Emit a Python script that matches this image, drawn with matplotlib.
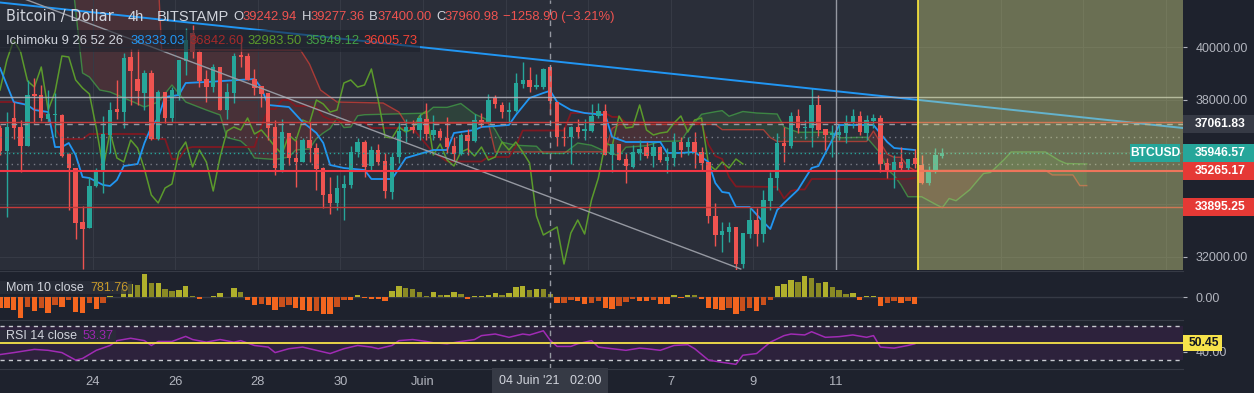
import numpy as np
import matplotlib.pyplot as plt
import matplotlib.transforms as mtransforms
from matplotlib.patches import Rectangle

plt.rcParams['font.family'] = ['Liberation Sans', 'DejaVu Sans']

# BTCUSD 4h candles (BITSTAMP), bar 0 = 22 May 02:00, bar 80 = 04 Juin 02:00
opens = [36915, 36040, 37295, 36952, 36228, 38210, 38171, 37257, 37410, 37410,
         35924, 35390, 33333, 33104, 34704, 35276, 36648, 37638, 37524, 39619,
         38781, 38248, 39010, 36495, 38286, 37295, 38171, 39467, 40534, 39810,
         38781, 38476, 39238, 37600, 38248, 39695, 39657, 38781, 38515, 38248,
         36952, 35314, 36724, 35771, 35619, 36457, 36152, 35390, 34400, 34057,
         34628, 34743, 35996, 36381, 35466, 36076, 35657, 34476, 35809, 36800,
         36952, 36838, 37257, 36648, 36800, 36533, 36229, 35924, 36648, 36419,
         37219, 37143, 38057, 37791, 37524, 37562, 38591, 38743, 38476, 38476,
         39243, 37905, 36571, 36571, 36952, 36800, 36800, 37371, 37562, 35885,
         36305, 35733, 35428, 35962, 36190, 35847, 36190, 35657, 35771, 36381,
         36190, 36381, 35996, 35619, 33561, 32838, 32952, 33143, 31733, 32876,
         33409, 32876, 34133, 35010, 36343, 36229, 37371, 36914, 36914, 37791,
         36876, 36648, 36648, 36724, 37105, 37371, 36724, 37181, 37295, 35581,
         35238, 35619, 35390, 35771, 35505, 34819, 35276, 35847]
highs = [37030, 37525, 37905, 37219, 38743, 38819, 38553, 38362, 38248, 37448,
         35962, 35390, 33942, 35047, 35390, 37371, 37905, 38743, 39772, 39924,
         39924, 39124, 39124, 38362, 38286, 38476, 39505, 40724, 40838, 39886,
         39124, 39353, 39238, 38629, 39772, 40419, 39772, 39162, 38515, 38248,
         37219, 37257, 36724, 36457, 36533, 37143, 36343, 35428, 35047, 35123,
         35123, 36229, 36533, 36457, 36229, 36305, 35962, 35962, 37143, 37257,
         37219, 37448, 37867, 37410, 36914, 37333, 36571, 36724, 36876, 37448,
         37486, 38210, 38171, 37905, 37905, 39010, 39429, 39238, 38972, 39200,
         39277, 37905, 36952, 36990, 37257, 37257, 37829, 37867, 37829, 36305,
         36305, 35962, 36267, 36457, 36381, 36381, 36229, 36152, 36724, 36571,
         36571, 36762, 36190, 35619, 34057, 33333, 33333, 33143, 32914, 33866,
         33866, 34552, 35238, 36724, 36952, 37524, 37638, 37219, 38438, 38171,
         36876, 37028, 37028, 37410, 37638, 37562, 37410, 37448, 37410, 35771,
         35885, 36190, 35733, 36114, 35885, 35466, 36152, 36152]
lows = [35885, 33525, 36495, 35238, 36228, 37105, 37181, 37143, 36571, 35809,
        33790, 32685, 31542, 33104, 34666, 34438, 35962, 37257, 36914, 37791,
        37791, 37600, 36457, 36457, 37105, 37143, 37981, 38934, 39581, 38476,
        37905, 38286, 37600, 37257, 37867, 39238, 38743, 38171, 37714, 36457,
        35123, 35238, 35505, 34666, 35619, 35619, 34552, 33866, 33638, 33790,
        33409, 34628, 35809, 35047, 35314, 35505, 34247, 34209, 35581, 36381,
        36724, 36457, 36457, 36457, 36457, 35962, 35657, 35885, 35885, 36381,
        36952, 37143, 37676, 37295, 37105, 37524, 38438, 38286, 38400, 38400,
        37400, 36229, 36229, 35543, 36533, 36457, 36762, 37295, 35885, 35238,
        35695, 34819, 35390, 35695, 35771, 35428, 35619, 35200, 35466, 35809,
        35885, 35390, 35314, 33295, 32418, 32190, 32571, 31504, 31580, 32723,
        32418, 32571, 33790, 34552, 35619, 36152, 36724, 36495, 36190, 36610,
        36076, 35809, 36457, 36343, 36914, 36648, 36457, 36914, 35238, 35010,
        34628, 35314, 35314, 35390, 34781, 34743, 35200, 35771]
closes = [36040, 36950, 36914, 36228, 38171, 38133, 37295, 37448, 37448, 35847,
          35390, 33295, 33066, 34704, 35314, 36686, 37600, 37524, 39581, 39086,
          38324, 39010, 36495, 38286, 37295, 38362, 39505, 40267, 39810, 38705,
          38476, 39238, 37600, 38286, 39657, 39619, 38743, 38438, 38210, 36914,
          35390, 36762, 35771, 35619, 36457, 36152, 35352, 34362, 34057, 34628,
          34781, 35996, 36381, 35428, 36076, 35619, 34514, 35809, 36800, 36952,
          36838, 37295, 36686, 36838, 36533, 36190, 35924, 36648, 36419, 37219,
          37105, 37981, 37829, 37524, 37600, 38629, 38743, 38476, 38553, 39162,
          37961, 36571, 36533, 36952, 36762, 36876, 37371, 37562, 35885, 36305,
          35695, 35466, 35996, 36114, 35847, 36190, 35695, 35809, 36381, 36076,
          36381, 35996, 35581, 33561, 32838, 32990, 33143, 31733, 32914, 33409,
          32876, 34171, 35010, 36343, 36229, 37371, 36914, 36952, 37791, 36838,
          36648, 36724, 36762, 37105, 37371, 36762, 37219, 37295, 35543, 35314,
          35619, 35390, 35733, 35543, 34819, 35276, 35885, 35947]
last_indicator_bar = 133
lag = 25

# Ichimoku 9 26 52 26 as (bar, price) points
tenkan_x = [0, 2, 4, 5, 7, 8, 9, 10, 11, 12, 13, 15, 16, 17, 18, 20, 21, 22, 23, 24,
            26, 27, 30, 37, 38, 39, 42, 44, 46, 47, 48, 50, 53, 54, 57, 59, 61, 63, 65, 66,
            69, 70, 74, 75, 77, 79, 80, 81, 83, 85, 88, 89, 91, 96, 97, 99, 101, 103, 104, 105,
            106, 107, 109, 111, 112, 113, 114, 116, 118, 119, 121, 122, 127, 129, 130, 133]
tenkan_y = [39200, 37905, 37791, 37600, 37524, 36190, 36190, 36343, 35885, 35047,
            35009, 34743, 34705, 34933, 35466, 35543, 36343, 36952, 37295, 38095,
            38171, 38629, 38667, 38781, 38438, 37791, 37714, 37143, 36724, 36343,
            35505, 35390, 35314, 34971, 34971, 35771, 35924, 36076, 36076, 36724,
            36838, 36952, 37029, 37410, 38057, 38248, 38333, 37905, 37600, 37486,
            37410, 36571, 36381, 36381, 35962, 35962, 36000, 35619, 34819, 34476,
            34438, 33905, 33905, 33333, 33066, 33790, 34057, 34552, 35390, 35466,
            36457, 37029, 37029, 36381, 36152, 36076]
kijun_x = [0, 3, 4, 6, 7, 8, 9, 12, 13, 21, 22, 24, 25, 26, 27, 28, 37, 38, 39, 40,
           41, 42, 43, 45, 46, 47, 48, 49, 50, 53, 54, 60, 61, 62, 63, 64, 65, 70, 71, 74,
           75, 76, 82, 83, 88, 89, 90, 91, 101, 102, 103, 104, 105, 106, 107, 113, 114, 115, 116, 117,
           118, 132, 133]
kijun_y = [37905, 37905, 37714, 37600, 37295, 36914, 36495, 36495, 36686, 36686,
           36495, 36495, 35733, 35733, 36133, 36190, 36190, 36971, 37638, 37638,
           37980, 37980, 37752, 37752, 37695, 37352, 37238, 37238, 37124, 37124,
           36914, 36914, 36590, 36285, 35962, 35829, 35638, 35638, 35810, 35810,
           36210, 36819, 36819, 37486, 37486, 37334, 37334, 37124, 37124, 37048,
           36286, 35848, 35734, 35048, 34686, 34667, 34228, 34514, 34571, 34571,
           34971, 34971, 35009]
span_a_x = [0, 10.5, 11.5, 12, 13, 14.5, 16, 19.4, 21, 23, 25, 27, 30, 32, 33, 35, 36, 37, 40, 42,
            43, 45, 46, 47, 48, 49, 50, 51, 52, 53, 62, 63, 65, 67, 69, 71, 72, 73, 75, 78,
            79, 80, 82, 84, 86, 87, 88, 90, 91, 94, 96, 99, 100, 102, 104, 105, 106, 108, 110, 113,
            114, 116, 121, 122, 126, 128, 129, 130, 131, 132, 134, 136, 137, 138, 139, 141, 143, 144, 146, 147,
            152, 154, 155, 158]
span_a_y = [42600, 42600, 40200, 39010, 38857, 38362, 38286, 37905, 37714, 37900,
            38552, 37905, 37600, 37410, 36552, 36419, 36190, 35771, 35714, 35810,
            36076, 36115, 36515, 36724, 36895, 37295, 36930, 36952, 37381, 37420,
            37480, 37705, 37700, 37847, 37448, 37210, 36848, 36372, 36257, 36219,
            35943, 35949, 35943, 36343, 36257, 36140, 36019, 35857, 36181, 36238,
            36400, 36420, 36810, 37438, 37534, 37576, 37362, 37543, 37486, 37448,
            36952, 36752, 36752, 36543, 36562, 35952, 35333, 35105, 34743, 34295,
            34295, 34010, 33876, 34228, 34142, 34562, 35180, 35218, 35714, 36000,
            36000, 35676, 35562, 35542]
span_b_x = [0, 23, 23.5, 43.7, 45, 46.6, 49, 55.7, 58, 59, 71, 72, 88, 89, 90, 104, 105, 111, 112, 113,
            126, 127, 128, 129, 130, 131, 132, 133, 152, 153, 156, 157, 158]
span_b_y = [42600, 42600, 39900, 39880, 39350, 38362, 37905, 37867, 37524, 37100,
            37100, 36000, 36006, 36900, 37050, 37050, 36850, 36850, 36550, 36400,
            36400, 36800, 36360, 35920, 35800, 35800, 35450, 35300, 35300, 35125,
            35125, 34720, 34720]

# Mom 10 close, one value per bar 0..133
mom = [-2700, -2700, -3200, -5200, -2500, -3500, -2700, -4000, -2000, -2500,
       -650, -3655, -3848, -1524, -2857, -1447, 305, 76, 2133, 3239,
       2934, 5715, 3429, 3582, 1981, 1676, 1905, 2743, 229, -381,
       152, 228, 1105, 0, 2362, 1257, -762, -1829, -1600, -1791,
       -3086, -2476, -1829, -2667, -3200, -3467, -3391, -4076, -4153, -2286,
       -609, -766, 610, -191, -381, -533, -838, 1447, 2743, 2324,
       2057, 1299, 305, 1410, 457, 571, 1410, 839, -381, 267,
       267, 686, 1143, 686, 1067, 2439, 2819, 1828, 2134, 1943,
       782, -1410, -1296, -572, -838, -1753, -1372, -914, -2668, -2857,
       -2266, -1105, -537, -838, -915, -686, -1676, -1753, 496, -229,
       686, 530, -415, -2553, -3009, -3200, -2552, -4076, -3467, -2667,
       -3505, -1825, -571, 2782, 3391, 4381, 3771, 5219, 4877, 3429,
       3772, 2553, 1752, 762, 1142, -609, 305, 343, -2248, -1524,
       -1029, -1334, -1029, -1562]

# RSI 14 close
rsi_x = [0, 2, 5, 7, 9, 11, 12, 14, 16, 17, 19, 21, 22, 23, 25, 27, 28, 30, 32, 34,
         35, 37, 39, 40, 42, 44, 46, 48, 50, 52, 54, 55, 57, 58, 60, 62, 63, 65, 67, 69,
         70, 72, 74, 76, 77, 79, 80, 81, 83, 84, 86, 87, 89, 91, 93, 94, 96, 98, 100, 101,
         103, 105, 107, 108, 110, 112, 114, 115, 117, 118, 120, 122, 124, 126, 127, 128, 130, 132, 133]
rsi_y = [36.6, 38.9, 42.7, 41.6, 38.9, 30.1, 32.0, 41.6, 47.3, 53.0, 55.8, 53.0, 47.3, 52.0, 52.0, 58.0, 54.3, 51.2, 54.3, 51.2,
         53.0, 47.3, 45.4, 38.9, 43.5, 45.4, 41.6, 37.8, 43.5, 47.3, 45.4, 43.5, 47.3, 53.0, 54.3, 52.0, 50.5, 49.3, 52.0, 54.3,
         58.9, 60.8, 56.9, 60.8, 59.7, 64.6, 53.4, 46.2, 46.2, 49.3, 53.0, 45.4, 43.5, 41.6, 44.2, 43.5, 41.6, 47.3, 48.2, 43.5,
         30.1, 27.4, 25.1, 35.8, 37.8, 51.2, 58.9, 60.8, 59.7, 63.5, 56.9, 57.7, 59.7, 56.9, 58.9, 45.4, 44.2, 47.3, 49.3]

# drawings
blue_trend_x = [0, 172]
blue_trend_y = [41696, 36914]
gray_trend_x = [0, 107.7]
gray_trend_y = [42180, 31542]
cursor_bar = 80
cursor_price = 37061.83
last_price = 35946.57
red_levels = [37150, 35265.17, 33895.25]
gray_level = 38106
dotted_levels = [36560, 35531]
yellow_bar = 133.5
gray_vline_bar = 121.5
rsi_level = 50.45

price_ticks = [32000, 34000, 36000, 38000, 40000]
day_ticks = [13.5, 25.5, 37.5, 49.5, 61.5, 73.5, 85.5, 97.5, 109.5, 121.5, 133.5, 145.5, 157.5, 169.5]
day_labels = ['24', '26', '28', '30', 'Juin', '', '', '7', '9', '11', '', '', '', '']

BG = '#2a2e39'
BG2 = '#1e222d'
TXT = '#b2b5be'
W, H = 1254, 393

fig = plt.figure(figsize=(W / 100, H / 100), dpi=100, facecolor=BG2)
ax = fig.add_axes([0, 1 - 270 / H, 1183 / W, 270 / H])
axm = fig.add_axes([0, 1 - 319 / H, 1183 / W, 48 / H], sharex=ax)
axr = fig.add_axes([0, 1 - 369 / H, 1183 / W, 49 / H], sharex=ax)

for a, fc in ((ax, BG), (axm, BG2), (axr, BG2)):
    a.set_facecolor(fc)
    for s in a.spines.values():
        s.set_visible(False)
    a.yaxis.tick_right()
    a.tick_params(axis='y', colors=TXT, labelsize=9, length=3, width=0.8, pad=6)
for a in (axm, axr):
    a.spines['top'].set_visible(True)
    a.spines['top'].set_color('#363a45')
axr.spines['bottom'].set_visible(True)
axr.spines['bottom'].set_color('#363a45')

ax.set_xlim(0, 172)
ax.set_ylim(31504, 41791)
axm.set_ylim(-5380, 6520)
axr.set_ylim(19.6, 77.3)

axr.set_xticks(day_ticks)
axr.set_xticklabels(day_labels)
axr.tick_params(axis='x', colors=TXT, labelsize=9.3, length=0, pad=5)
ax.tick_params(axis='x', labelbottom=False, length=0)
axm.tick_params(axis='x', labelbottom=False, length=0)
ax.grid(True, color='#363a45', lw=0.8, zorder=0)

ax.set_yticks(price_ticks)
ax.set_yticklabels([f'{v:.2f}' for v in price_ticks])
axm.set_yticks([0])
axm.set_yticklabels(['0.00'])
axr.set_yticks([40])
axr.set_yticklabels(['40.00'])

# --- Ichimoku cloud ---
grid = np.linspace(0, 158, 1581)
sa = np.interp(grid, span_a_x, span_a_y)
sb = np.interp(grid, span_b_x, span_b_y)
ax.fill_between(grid, sa, sb, where=sa >= sb, interpolate=True, color='#43a047', alpha=0.18, lw=0, zorder=1)
ax.fill_between(grid, sa, sb, where=sa < sb, interpolate=True, color='#f44336', alpha=0.15, lw=0, zorder=1)
ax.plot(span_a_x, span_a_y, color='#43a047', lw=1, alpha=0.75, zorder=2)
ax.plot(span_b_x, span_b_y, color='#f44336', lw=1, alpha=0.6, zorder=2)
ax.plot(kijun_x, kijun_y, color='#801922', lw=1.3, zorder=2)
chikou = closes[lag:last_indicator_bar + 1]
ax.plot(np.arange(len(chikou)), chikou, color='#5b9a2c', lw=1.1, zorder=2)
ax.plot(tenkan_x, tenkan_y, color='#2196f3', lw=1.3, zorder=2)

# --- candles ---
o, hi, lo, c = map(np.array, (opens, highs, lows, closes))
bars = np.arange(len(c))
col = np.where(c >= o, '#26a69a', '#ef5350')
ax.vlines(bars, lo, hi, colors=col, lw=1, zorder=3)
ax.bar(bars, np.maximum(np.abs(c - o), 45), bottom=np.minimum(o, c), width=0.64, color=col, lw=0, zorder=3)

# --- drawings ---
ax.plot(blue_trend_x, blue_trend_y, color='#2196f3', lw=1.4, zorder=4)
ax.plot(gray_trend_x, gray_trend_y, color='#9598a1', lw=1, zorder=4)
ax.axhline(gray_level, color='#b2b5be', lw=1, alpha=0.85, zorder=4)
ax.axhline(red_levels[0], color='#c43a3a', lw=1, zorder=4)
ax.axhline(red_levels[1], color='#f23645', lw=1.5, zorder=4)
ax.axhline(red_levels[2], color='#c43a3a', lw=1, zorder=4)
for lv in dotted_levels:
    ax.axhline(lv, color='#787b86', lw=1, ls=(0, (1, 3)), zorder=4)
ax.axhline(last_price, color='#26a69a', lw=1, ls=(0, (1, 2)), zorder=4)
ax.axhline(cursor_price, color='#9598a1', lw=1, ls=(0, (4, 4)), zorder=4)
ax.axvline(gray_vline_bar, color='#9598a1', lw=1, zorder=4)
ax.axvspan(yellow_bar, 172, color='#e4eb86', alpha=0.35, lw=0, zorder=5)
ax.axvline(yellow_bar, color='#ffeb3b', lw=1.2, zorder=6)
for a in (ax, axm, axr):
    a.axvline(cursor_bar, color='#9598a1', lw=1, ls=(0, (4, 4)), zorder=7)

# --- Mom pane ---
m = np.array(mom)
prev = np.concatenate([[m[0]], m[:-1]])
mcol = np.where(m >= 0, np.where(m >= prev, '#b0b02c', '#8a8a25'),
                np.where(m <= prev, '#f4661f', '#c9501c'))
axm.axhline(0, color='#363a45', lw=1, zorder=1)
axm.bar(np.arange(len(m)), m, width=0.78, color=mcol, lw=0, zorder=2)

# --- RSI pane ---
axr.axhspan(30, 70, color='#9c27b0', alpha=0.12, lw=0, zorder=1)
axr.axhline(70, color='#c8cad0', lw=1, ls=(0, (3, 3)), zorder=2)
axr.axhline(30, color='#c8cad0', lw=1, ls=(0, (3, 3)), zorder=2)
axr.plot(rsi_x, rsi_y, color='#a02bb4', lw=1.1, zorder=3)
axr.axhline(rsi_level, color='#f7e34a', lw=1.3, zorder=4)


def axis_box(a, y, h, text, fc, tc='white', x0=1.0, w=71, tx=12, ha='left'):
    tr = mtransforms.blended_transform_factory(a.transAxes, a.transData)
    a.add_patch(Rectangle((x0, y - h / 2), w / 1183, h, transform=tr, clip_on=False,
                          fc=fc, ec='none', zorder=10))
    a.text(x0 + tx / 1183, y, text, transform=tr, color=tc, fontsize=8.7, fontweight='bold',
           va='center', ha=ha, clip_on=False, zorder=11)


axis_box(ax, cursor_price, 686, f'{cursor_price:.2f}', '#363a45')
axis_box(ax, last_price, 686, f'{last_price:.2f}', '#26a69a')
axis_box(ax, red_levels[1], 686, f'{red_levels[1]:.2f}', '#e53935')
axis_box(ax, red_levels[2], 686, f'{red_levels[2]:.2f}', '#e53935')
axis_box(ax, last_price, 686, 'BTCUSD', '#26a69a', x0=1130 / 1183, w=50, tx=25, ha='center')
axis_box(axr, rsi_level, 18.5, f'{rsi_level:.2f}', '#f7e34a', tc='#131722', w=39, tx=6)

# crosshair time label
trx = mtransforms.blended_transform_factory(axr.transData, axr.transAxes)
axr.text(cursor_bar, -0.245, "04 Juin '21   02:00", transform=trx, ha='center', va='center',
         fontsize=9, color='#d1d4dc', clip_on=False, zorder=12,
         bbox=dict(boxstyle='square,pad=0.55', fc='#363a45', ec='none'))


# --- legends ---
def ftxt(x, y, s, color, size=9.4, **kw):
    fig.text(x / W, 1 - y / H, s, color=color, fontsize=size, va='center', ha='left', **kw)


fig.patches.append(Rectangle((0, 1 - 52 / H), 420 / W, 22 / H, transform=fig.transFigure,
                             fc='#1e222d', alpha=0.6, ec='none', zorder=2))
fig.patches.append(Rectangle((0, 1 - 294 / H), 132 / W, 13 / H, transform=fig.transFigure,
                             fc='#2a2e39', alpha=0.8, ec='none', zorder=2))
fig.patches.append(Rectangle((0, 1 - 342 / H), 116 / W, 12 / H, transform=fig.transFigure,
                             fc='#2a2e39', alpha=0.8, ec='none', zorder=2))
ftxt(6, 17, 'Bitcoin / Dollar', '#d1d4dc', 10.5, family=['DejaVu Sans'])
ftxt(128, 17, '4h', '#d1d4dc', 10.5)
ftxt(157, 17, 'BITSTAMP', '#d1d4dc', 10.5)
red = '#ef5350'
for x, lab, xv, val in ((233, 'O', 242, '39242.94'), (302, 'H', 310, '39277.36'),
                        (369, 'B', 377, '37400.00'), (436, 'C', 444, '37960.98')):
    ftxt(x, 17, lab, '#d1d4dc')
    ftxt(xv, 17, val, red)
ftxt(503, 17, '\u22121258.90 (\u22123.21%)', red)

ftxt(6, 41, 'Ichimoku 9 26 52 26', '#d1d4dc')
ftxt(130, 41, '38333.03', '#2196f3')
ftxt(189, 41, '36842.60', '#a52a2a')
ftxt(247, 41, '32983.50', '#5b9a2c')
ftxt(305, 41, '35949.12', '#43a047')
ftxt(363, 41, '36005.73', '#f44336')

ftxt(6, 288, 'Mom 10 close', '#d1d4dc', 9)
ftxt(90, 288, '781.76', '#c79a2b', 9)
ftxt(6, 336, 'RSI 14 close', '#d1d4dc', 9)
ftxt(83, 336, '53.37', '#9c27b0', 9)

fig.savefig('out.png', dpi=100, facecolor=fig.get_facecolor())
